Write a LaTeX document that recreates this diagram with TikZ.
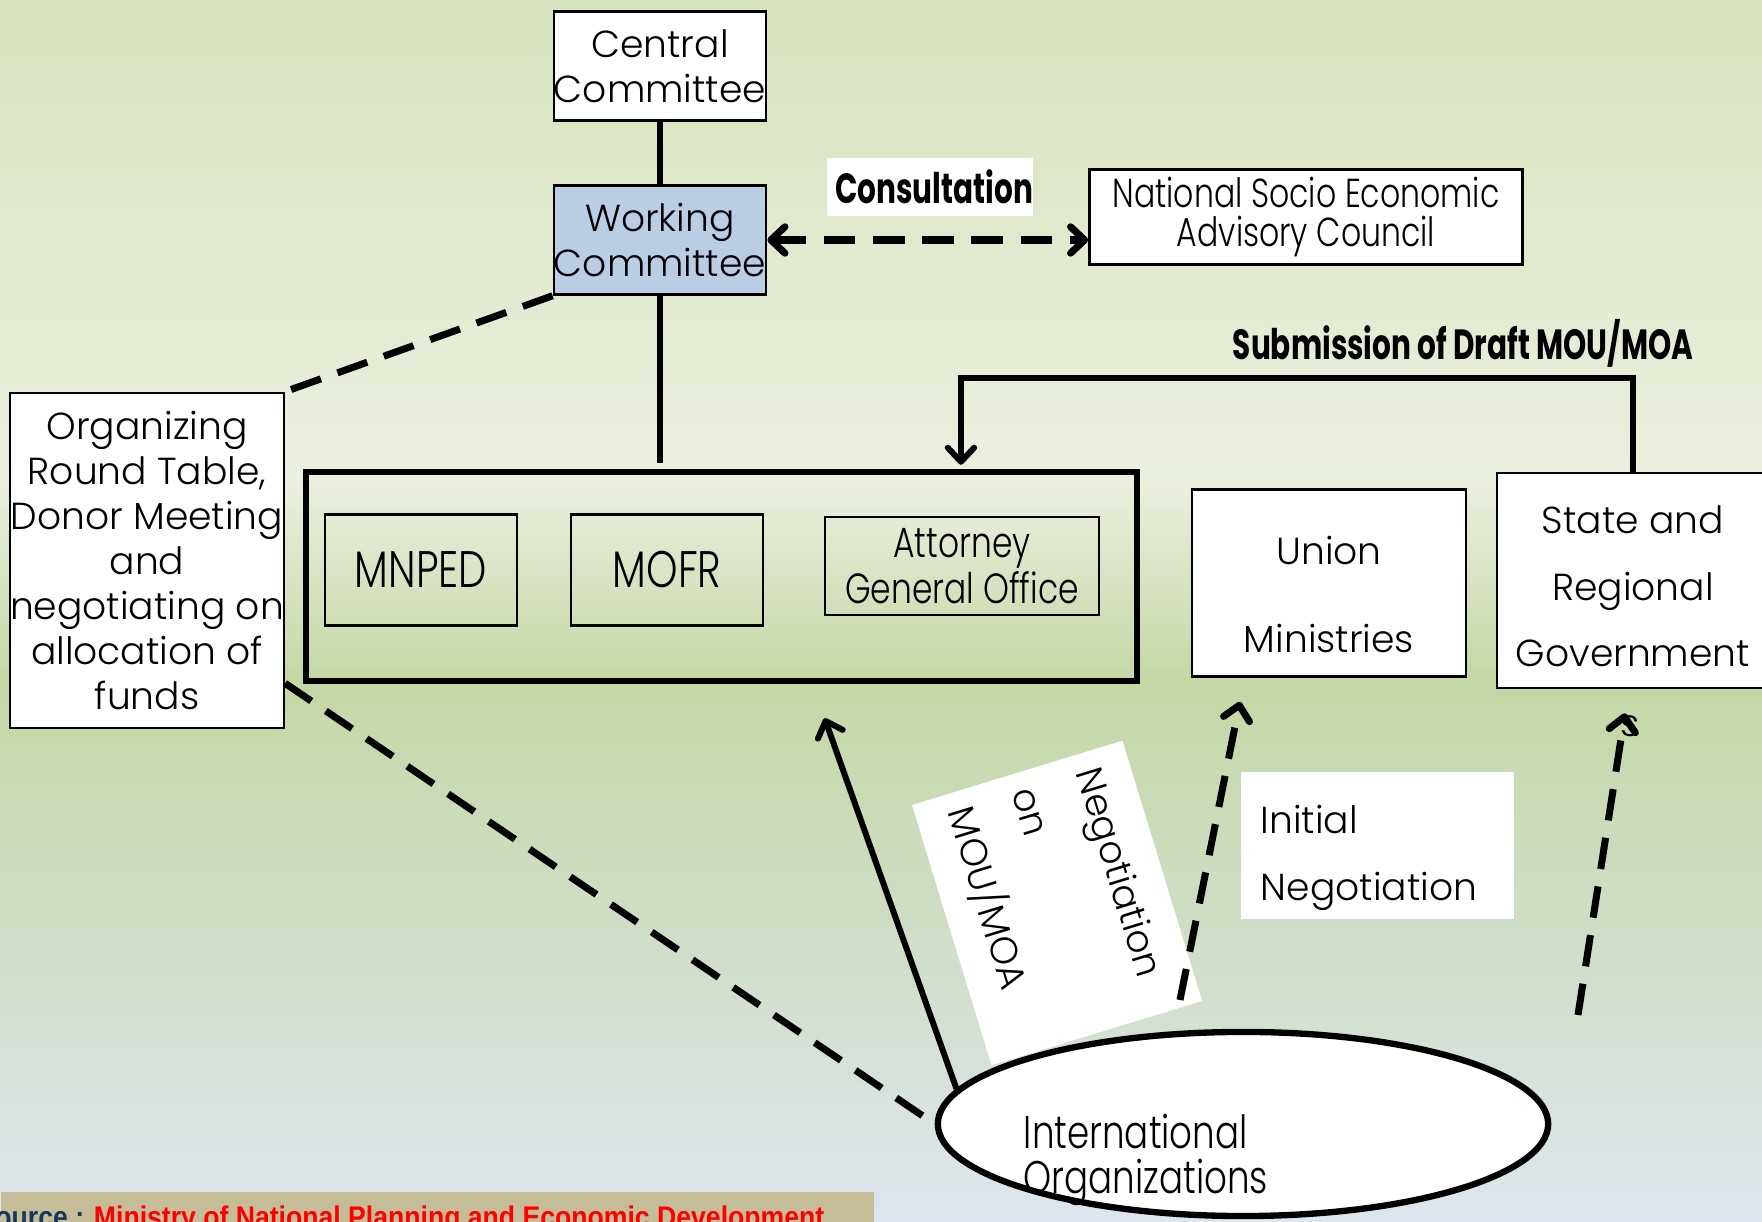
\documentclass[tikz,border=0pt]{standalone}
\usepackage{fontspec}
\setmainfont{Poppins Light}[BoldFont={Poppins Bold}]
\newfontfamily\condfont[FakeStretch=0.78, BoldFont={Poppins Bold}]{Poppins Light}
\newfontfamily\condboldfont[FakeStretch=0.70]{Poppins Bold}
\newfontfamily\srcfont[FakeStretch=0.89]{Liberation Sans}
\usetikzlibrary{arrows.meta, shapes.geometric, calc}

\definecolor{wcblue}{HTML}{B9CDE5}
\definecolor{bgtop}{HTML}{D6E3BC}
\definecolor{bglight}{HTML}{EBF0DF}
\definecolor{bgmid}{HTML}{C5D7A5}
\definecolor{bgbottom}{HTML}{DEE5EE}
\definecolor{srctan}{HTML}{C4BD97}
\definecolor{srcnavy}{HTML}{17365D}

\newcommand{\gothictext}{\fontsize{10.7}{12.8}\selectfont}
\newcommand{\gothicloose}{\fontsize{10.7}{19}\selectfont}
\newcommand{\condtext}{\condfont\fontsize{11.5}{10.9}\selectfont}
\newcommand{\condlarge}{\condfont\fontsize{13}{12.8}\selectfont}
\newcommand{\condhuge}{\condfont\fontsize{14.6}{16}\selectfont}
\newcommand{\condbold}{\condboldfont\fontsize{12}{13}\selectfont}
% shift a block of lines down inside its box
\newcommand{\lowered}[3]{\raisebox{-#1}[\height][\depth]{\begin{tabular}{@{}#2@{}}#3\end{tabular}}}

\tikzset{
  plainbox/.style={draw, fill=white, line width=0.7pt, inner sep=0pt, align=center, font=\gothictext},
  innerbox/.style={draw, line width=0.7pt, inner sep=0pt, align=center, font=\condtext},
  conn/.style={line width=1.7pt},
  dashconn/.style={line width=2pt, dash pattern=on 9pt off 5pt},
  >={Straight Barb[length=4pt, width=7.5pt, round]}
}

\begin{document}
\begin{tikzpicture}[x=0.01cm, y=-0.01cm]
    \useasboundingbox (0,0) rectangle (1762,1222);
    % Background
    \shade[top color=bgtop, bottom color=bglight] (0,0) rectangle (1762,480);
    \shade[top color=bglight, bottom color=bgmid] (0,480) rectangle (1762,680);
    \shade[top color=bgmid, bottom color=bgbottom] (0,680) rectangle (1762,1222);

    % Draw nodes
    \node[plainbox, minimum width=2.09cm, minimum height=1.09cm] (central) at (660,66) {Central\\Committee};
    \node[plainbox, fill=wcblue, minimum width=2.09cm, minimum height=1.09cm] (working) at (660,240) {Working\\Committee};
    \node[fill=white, inner sep=0pt, text width=2.06cm, align=right, minimum height=0.58cm, font=\condbold] (consult) at (930,187) {Consultation};
    \node[plainbox, font=\condtext, minimum width=4.33cm, minimum height=0.95cm] (nseac) at (1306,217) {National Socio Economic\\Advisory Council};
    \node[draw, line width=1.8pt, minimum width=8.31cm, minimum height=2.09cm] (core) at (721.5,576.5) {};
    \node[innerbox, font=\condhuge, minimum width=1.92cm, minimum height=1.11cm] (mnped) at (421,570) {MNPED};
    \node[innerbox, font=\condhuge, minimum width=1.92cm, minimum height=1.11cm] (mofr) at (667,570) {MOFR};
    \node[innerbox, font=\condfont\fontsize{12}{10.9}\selectfont, minimum width=2.74cm, minimum height=0.98cm] (ago) at (962,566) {Attorney\\General Office};
    \node[plainbox, font=\gothicloose, minimum width=2.74cm, minimum height=1.87cm] (union) at (1329,583) {\lowered{3.5pt}{c}{Union\\[6pt]Ministries}};
    \node[plainbox, font=\gothicloose, minimum width=2.72cm, minimum height=2.15cm] (state) at (1633,580.5) {\lowered{1.8pt}{c}{State and\\Regional\\Government}};
    \node[inner sep=0pt, font=\gothictext] (sfrag) at (1630,726) {s};
    \node[plainbox, minimum width=2.72cm, minimum height=3.35cm] (orgbox) at (147,560.5) {Organizing\\Round Table,\\Donor Meeting\\and\\negotiating on\\allocation of\\funds};
    \node[fill=white, font=\gothicloose, text width=2.33cm, inner xsep=0.2cm, inner ysep=0pt, minimum height=1.47cm, align=left] (initial) at (1377.5,845.5) {\lowered{2.3pt}{l}{Initial\\Negotiation}};
    \node[fill=white, rotate=-73, font=\gothicloose, text width=2.38cm, inner xsep=0.17cm, minimum height=2.2cm, align=left] (negmou) at (1057,903) {Negotiation\\on\\MOU/MOA};
    \node[ellipse, draw, fill=white, line width=1.8pt, minimum width=6.1cm, minimum height=1.84cm] (intl) at (1243,1124) {};
    \node[font=\condlarge, align=left, inner sep=0pt] (intltext) at ([xshift=-0.97cm, yshift=-0.36cm]intl.center) {International\\Organizations};

    % Source
    \node[fill=srctan, inner sep=0pt, anchor=north west, minimum width=8.73cm, minimum height=0.4cm] (srcbar) at (0,1191) {};
    \node[anchor=base west, inner sep=0pt, font=\srcfont\bfseries\fontsize{8.5}{10}\selectfont] (srctext) at (-23,1228) {\textcolor{srcnavy}{Source :} \textcolor{red}{Ministry of National Planning and Economic Development}};

    % Draw connections
    \coordinate (subturn) at (961,378);
    \coordinate (initfoot) at (1180,1000);
    \coordinate (statefoot) at (1578,1015);
    \draw[conn] (central) -- (working);
    \draw[conn, shorten >=0.06cm] (working) -- (working |- core.north);
    \draw[dashconn, <->] (working.east) -- (working.east -| nseac.west);
    \draw[conn, ->, shorten >=0.04cm] (state.north) |- (subturn) -- (subturn |- core.north);
    \draw[dashconn] (working.south west) -- (orgbox.north east);
    \draw[dashconn] ([yshift=0.46cm]orgbox.south east) -- (intl.west);
    \draw[conn, ->] (intl.173) -- ([shift={(522,34)}]core.south west);
    \draw[dashconn, ->] (initfoot) -- ([shift={(-89,24)}]union.south);
    \draw[dashconn, ->] (statefoot) -- ([shift={(-8,24)}]state.south);

    % Labels
    \node[font=\condbold] (subtext) at (1463,343) {Submission of Draft MOU/MOA};
\end{tikzpicture}
\end{document}
